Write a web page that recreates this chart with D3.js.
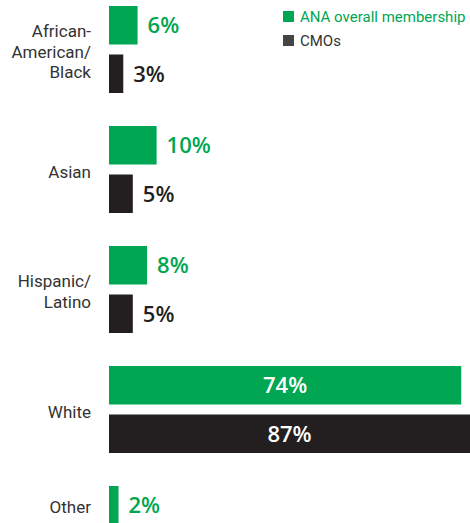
<!DOCTYPE html>
<html>
<head>
<meta charset="utf-8">
<script src="https://cdn.jsdelivr.net/npm/d3@7"></script>
<style>
  html, body { margin: 0; padding: 0; background: #fff; }
  svg { display: block; }
</style>
</head>
<body>
<svg id="chart"></svg>
<script>
// data
const categories = ['African-American/Black', 'Asian', 'Hispanic/Latino', 'White', 'Other'];
const categoryLines = [['African-', 'American/', 'Black'], ['Asian'], ['Hispanic/', 'Latino'], ['White'], ['Other']];
const seriesNames = ['ANA overall membership', 'CMOs'];
const anaValues = [6, 10, 8, 74, 2];
const cmoValues = [3, 5, 5, 87, null];

const COLORS = { 'ANA overall membership': '#00a651', 'CMOs': '#231f20' };
const LEGEND_COLORS = { 'ANA overall membership': '#00a651', 'CMOs': '#444444' };
const LEGEND_TEXT = { 'ANA overall membership': '#00a651', 'CMOs': '#333333' };

const width = 470, height = 523;
const svg = d3.select('#chart').attr('width', width).attr('height', height);

const y = d3.scaleBand()
    .domain(categories)
    .range([6, 573])
    .paddingInner(0.275)
    .paddingOuter(0);

const ySub = d3.scaleBand()
    .domain(seriesNames)
    .range([0, y.bandwidth()])
    .paddingInner(0.206);

const x = d3.scaleLinear()
    .domain([0, 100])
    .range([109, 585]);

const rows = categories.map((c, i) => ({
    category: c,
    lines: categoryLines[i],
    values: [
        { series: seriesNames[0], value: anaValues[i] },
        { series: seriesNames[1], value: cmoValues[i] }
    ].filter(d => d.value != null)
}));

const group = svg.selectAll('g.row')
    .data(rows)
    .enter()
    .append('g')
    .attr('class', 'row')
    .attr('transform', d => `translate(0 ${y(d.category)})`);

// bars
group.selectAll('rect')
    .data(d => d.values)
    .enter()
    .append('rect')
    .attr('x', x(0))
    .attr('y', d => ySub(d.series))
    .attr('width', d => x(d.value) - x(0))
    .attr('height', ySub.bandwidth())
    .attr('fill', d => COLORS[d.series]);

// value labels: outside for small bars, inside (white) for long ones
const isLong = d => x(d.value) - x(0) > 150;
group.selectAll('text.value')
    .data(d => d.values)
    .enter()
    .append('text')
    .attr('class', 'value')
    .attr('x', d => isLong(d) ? (x(0) + Math.min(x(d.value), width)) / 2 : x(d.value) + 10)
    .attr('y', d => ySub(d.series) + ySub.bandwidth() / 2)
    .attr('dy', '0.36em')
    .attr('text-anchor', d => isLong(d) ? 'middle' : 'start')
    .style('font-family', '"Open Sans", sans-serif')
    .style('font-weight', 600)
    .style('font-size', '22px')
    .attr('fill', d => isLong(d) ? '#ffffff' : COLORS[d.series])
    .text(d => d.value + '%');

// category labels
const lineHeight = 20.5;
group.each(function (d) {
    const n = d.values.length;
    const top = ySub(d.values[0].series);
    const bottom = ySub(d.values[n - 1].series) + ySub.bandwidth();
    const mid = (top + bottom) / 2 + 2;
    const t = d3.select(this).append('text')
        .attr('text-anchor', 'end')
        .style('font-family', 'Roboto, "Liberation Sans", sans-serif')
        .style('font-size', '17px')
        .attr('fill', '#333333');
    d.lines.forEach((line, i) => {
        t.append('tspan')
            .attr('x', 91)
            .attr('y', mid + (i - (d.lines.length - 1) / 2) * lineHeight)
            .attr('dy', '0.36em')
            .text(line);
    });
});

// legend
const legend = svg.append('g')
    .attr('transform', 'translate(283 11)');
seriesNames.forEach((s, i) => {
    legend.append('rect')
        .attr('x', 0)
        .attr('y', i * 24)
        .attr('width', 11)
        .attr('height', 11)
        .attr('fill', LEGEND_COLORS[s]);
    legend.append('text')
        .attr('x', 17)
        .attr('y', i * 24 + 5.5)
        .attr('dy', '0.36em')
        .style('font-family', 'Roboto, "Liberation Sans", sans-serif')
        .style('font-size', '15px')
        .attr('fill', LEGEND_TEXT[s])
        .text(s);
});
</script>
</body>
</html>
